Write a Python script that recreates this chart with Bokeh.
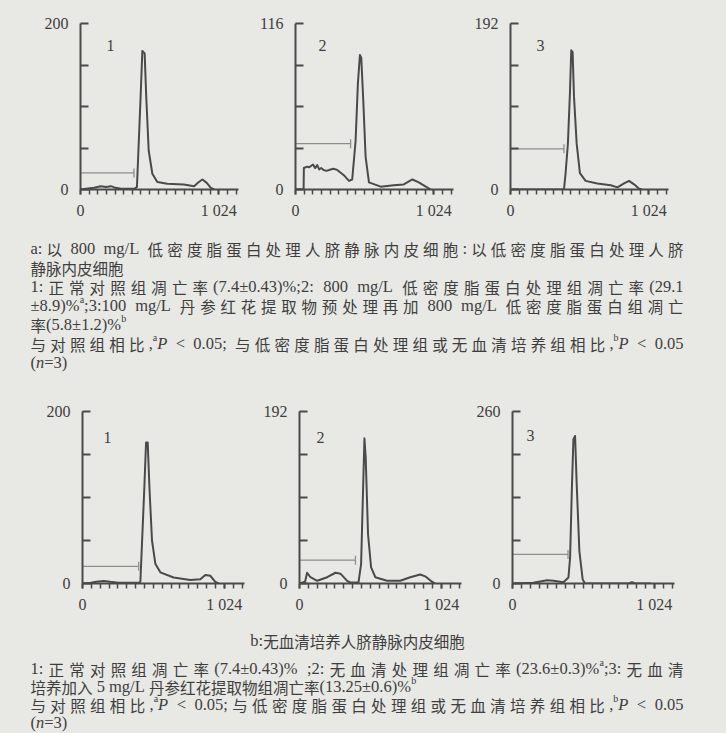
from bokeh.plotting import figure
from bokeh.layouts import column, row
from bokeh.models import FixedTicker, Range1d, Label
from bokeh.embed import file_html
from bokeh.resources import INLINE

# ---------------- data (channel vs. cell count) ----------------
x_max_label = 1024
x_tick_step = 64

a1_x = [0, 40, 100, 150, 190, 225, 260, 300, 350, 400, 418, 445, 458, 475, 487, 505, 532, 569, 643, 766, 841, 876, 903, 935, 965, 990]
a1_y = [0, 1, 2, 4, 3, 4, 2, 1, 1, 1, 3, 111, 167, 164, 111, 47, 19, 9, 7, 6, 4, 9, 12, 8, 2, 0]
a2_x = [0, 60, 62, 86, 100, 130, 145, 161, 175, 190, 208, 230, 260, 280, 309, 330, 358, 396, 420, 445, 462, 477, 487, 502, 519, 544, 631, 727, 801, 866, 913, 965, 1002]
a2_y = [0, 0, 15, 16, 15.5, 17.5, 15, 17, 14, 15, 13.6, 13, 14, 14.5, 13.7, 12, 10, 6, 7, 34, 74, 94, 92, 62, 23, 5, 2, 3, 3.5, 7, 5, 2, 0]
a3_x = [0, 396, 408, 425, 440, 450, 460, 470, 490, 514, 556, 643, 742, 792, 841, 878, 915, 952, 975]
a3_y = [0, 0, 19, 53, 111, 161, 159, 108, 53, 19, 10, 7, 5, 2.5, 7, 10, 6, 1, 0]
b1_x = [0, 60, 100, 154, 200, 260, 330, 410, 418, 447, 459, 471, 483, 502, 526, 562, 658, 779, 851, 887, 923, 959, 985]
b1_y = [0, 1, 2, 3, 2, 1, 1, 1, 2, 113, 164, 164, 113, 50, 23, 13, 7, 4, 5, 10, 9, 2, 0]
b2_x = [0, 40, 55, 79, 128, 200, 260, 296, 344, 368, 426, 445, 459, 469, 478, 495, 517, 548, 632, 728, 800, 872, 908, 957, 980]
b2_y = [0, 2, 12, 7, 3, 7, 12, 11, 3, 1, 1, 22, 104, 162, 141, 55, 18, 7, 3, 3, 7, 10, 8, 2, 0]
b3_x = [0, 150, 200, 250, 296, 368, 404, 416, 428, 440, 452, 464, 483, 507, 524, 840, 863, 885, 1000]
b3_y = [0, 1, 3, 5, 4, 2, 9, 39, 138, 218, 223, 148, 49, 6, 0, 0, 2, 0, 0]

y_max_a = [200, 116, 192]
y_max_b = [200, 192, 260]
gate_end_a = [396, 408, 396]
gate_level_a = [20, 32, 47]
gate_end_b = [406, 404, 401]
gate_level_b = [20, 26, 44]
panel_names = ["1", "2", "3"]

# caption lines: (runs, justified); run styles: n = normal, i = italic, s = superscript
caption_a = [
    ([("a:以 800 mg/L 低密度脂蛋白处理人脐静脉内皮细胞:以低密度脂蛋白处理人脐", "n")], True),
    ([("静脉内皮细胞", "n")], False),
    ([("1:正常对照组凋亡率(7.4±0.43)%;2: 800 mg/L 低密度脂蛋白处理组凋亡率(29.1", "n")], True),
    ([("±8.9)%", "n"), ("a", "s"), (";3:100 mg/L 丹参红花提取物预处理再加 800 mg/L 低密度脂蛋白组凋亡", "n")], True),
    ([("率(5.8±1.2)%", "n"), ("b", "s")], False),
    ([("与对照组相比,", "n"), ("a", "s"), ("P", "i"), (" < 0.05; 与低密度脂蛋白处理组或无血清培养组相比,", "n"),
      ("b", "s"), ("P", "i"), (" < 0.05", "n")], True),
    ([("(", "n"), ("n", "i"), ("=3)", "n")], False),
]
caption_b_title = [("b:无血清培养人脐静脉内皮细胞", "n")]
caption_b = [
    ([("1:正常对照组凋亡率(7.4±0.43)% ;2:无血清处理组凋亡率(23.6±0.3)%", "n"), ("a", "s"), (";3:无血清", "n")], True),
    ([("培养加入 5 mg/L 丹参红花提取物组凋亡率(13.25±0.6)%", "n"), ("b", "s")], False),
    ([("与对照组相比,", "n"), ("a", "s"), ("P", "i"), (" < 0.05;与低密度脂蛋白处理组或无血清培养组相比,", "n"),
      ("b", "s"), ("P", "i"), (" < 0.05", "n")], True),
    ([("(", "n"), ("n", "i"), ("=3)", "n")], False),
]

# ---------------- style ----------------
BG = "#e8e8e5"
INK = "#4a4a4a"
GATE = "#8e8e8e"
TXT = "#3e3e3e"
SERIF = "Liberation Serif"
CJK = "Noto Sans CJK SC"
X_END = 1170
W = 726


def panel(xs, ys, ymax, gx, gy, name, name_x, name_y, fw, fh, bl, br, bt, bb):
    p = figure(frame_width=fw, frame_height=fh, x_range=Range1d(0, X_END),
               y_range=Range1d(0, ymax), toolbar_location=None, output_backend="svg",
               min_border_left=bl, min_border_right=br, min_border_top=bt,
               min_border_bottom=bb)
    p.background_fill_color = BG
    p.border_fill_color = BG
    p.outline_line_color = None
    p.grid.visible = False

    p.line(xs, ys, line_color=INK, line_width=2, line_join="round")
    p.line([0, gx], [gy, gy], line_color=GATE, line_width=1.3)
    p.scatter([gx], [gy], marker="dash", angle=1.5708, size=9,
              line_color=GATE, line_width=1.3)

    step = ymax // 4
    yt = [step * i for i in range(5)]
    p.yaxis.ticker = FixedTicker(ticks=yt, minor_ticks=[])
    p.yaxis.major_label_overrides = {v: ("" if 0 < v < ymax else str(v)) for v in yt}
    p.yaxis.major_tick_in = 8
    p.yaxis.major_tick_out = 0
    p.yaxis.minor_tick_in = 0
    p.yaxis.minor_tick_out = 0
    p.yaxis.major_label_standoff = 12

    p.xaxis.ticker = FixedTicker(ticks=[0, x_max_label],
                                 minor_ticks=list(range(0, X_END, x_tick_step)))
    p.xaxis.major_label_overrides = {0: "0", x_max_label: "1 024"}
    p.xaxis.major_tick_in = 0
    p.xaxis.major_tick_out = 5
    p.xaxis.minor_tick_in = 0
    p.xaxis.minor_tick_out = 5
    p.xaxis.major_label_standoff = 7

    for ax in (p.xaxis, p.yaxis):
        ax.axis_line_color = INK
        ax.axis_line_width = 2
        ax.major_tick_line_color = INK
        ax.major_tick_line_width = 2
        ax.minor_tick_line_color = INK
        ax.minor_tick_line_width = 1.5
        ax.major_label_text_font = SERIF
        ax.major_label_text_font_size = "16px"
        ax.major_label_text_color = TXT

    p.add_layout(Label(x=name_x, y=name_y, text=name, text_font=SERIF,
                       text_font_size="16px", text_color=TXT,
                       text_align="center", text_baseline="middle"))
    return p


top_data = [(a1_x, a1_y), (a2_x, a2_y), (a3_x, a3_y)]
bot_data = [(b1_x, b1_y), (b2_x, b2_y), (b3_x, b3_y)]

top_borders = [(80, 7), (50, 7), (50, 58)]
top_names = [(223, 0.865), (200, 0.87), (222, 0.87)]
top = []
for i in range(3):
    xs, ys = top_data[i]
    m = y_max_a[i]
    nx, fy = top_names[i]
    top.append(panel(xs, ys, m, gate_end_a[i], gate_level_a[i], panel_names[i],
                     nx, m * fy, 158, 166, top_borders[i][0], top_borders[i][1], 23, 36))

bot_borders = [(82, 6), (49, 4), (47, 52)]
bot_names = [(180, 0.85), (151, 0.85), (130, 0.86)]
bot = []
for i in range(3):
    xs, ys = bot_data[i]
    m = y_max_b[i]
    nx, fy = bot_names[i]
    bot.append(panel(xs, ys, m, gate_end_b[i], gate_level_b[i], panel_names[i],
                     nx, m * fy, 162, 172, bot_borders[i][0], bot_borders[i][1], 16, 36))

# ---------------- simple caption typesetting ----------------
CJK_SIZE = 15.5
LAT_SIZE = 16.5
SUP_SIZE = 10
LAT_W = {" ": 0.25, ".": 0.25, ",": 0.25, ":": 0.278, ";": 0.278, "(": 0.333, ")": 0.333,
         "%": 0.833, "±": 0.564, "<": 0.564, "=": 0.564, "/": 0.278, "a": 0.444, "b": 0.5,
         "g": 0.5, "m": 0.778, "n": 0.5, "L": 0.611, "P": 0.611}


def is_cjk(ch):
    return ord(ch) >= 0x2E80


def lat_w(s, size):
    return sum(LAT_W.get(c, 0.5) for c in s) * size


def units_of(runs):
    units = []   # [text, kind, width, space_before, glued]
    space = 0.0
    for text, style in runs:
        if style == "s":
            units.append([text, "s", lat_w(text, SUP_SIZE), space, space == 0])
            space = 0.0
            continue
        buf = ""
        for ch in text + "\0":
            if ch == "\0" or ch == " " or is_cjk(ch):
                if buf:
                    glued = space == 0 and bool(units) and units[-1][1] != "c"
                    units.append([buf, style, lat_w(buf, LAT_SIZE), space, glued])
                    buf = ""
                    space = 0.0
                if ch == " ":
                    space += 0.25 * LAT_SIZE
                elif ch != "\0":
                    units.append([ch, "c", CJK_SIZE, space, False])
                    space = 0.0
            else:
                buf += ch
    return units


def set_line(fig, runs, x0, x1, yc, mode):
    units = units_of(runs)
    natural = sum(u[2] + u[3] for u in units) - units[0][3]
    gaps = sum(1 for u in units[1:] if not u[4])
    extra = (x1 - x0 - natural) / gaps if (mode == "justify" and gaps) else 0.0
    x = x0 if mode != "center" else (x0 + x1 - natural) / 2
    base = yc + 5
    for k, (t, kind, w, sp, glued) in enumerate(units):
        if k > 0:
            x += sp + (0 if glued else extra)
        if kind == "c":
            font, size, style, y = CJK, CJK_SIZE, "normal", base
        elif kind == "s":
            font, size, style, y = SERIF, SUP_SIZE, "normal", base - 6
        else:
            font, size, y = SERIF, LAT_SIZE, base
            style = "italic" if kind == "i" else "normal"
        fig.add_layout(Label(x=x, y=y, text=t, text_font=font, text_font_size=f"{size}px",
                             text_font_style=style, text_color=TXT, text_align="left",
                             text_baseline="alphabetic"))
        x += w


def caption_fig(h):
    c = figure(width=W, height=h, x_range=Range1d(0, W), y_range=Range1d(h, 0),
               toolbar_location=None, output_backend="svg", min_border=0,
               x_axis_type=None, y_axis_type=None)
    c.background_fill_color = BG
    c.border_fill_color = BG
    c.outline_line_color = None
    c.grid.visible = False
    return c


LEFT, RIGHT = 30, 683
cap_a = caption_fig(170)           # page y 225 .. 395
for k, (runs, just) in enumerate(caption_a):
    set_line(cap_a, runs, LEFT, RIGHT, 18 + 19 * k, "justify" if just else "left")

cap_b = caption_fig(114)           # page y 619 .. 733
set_line(cap_b, caption_b_title, 0, 714, 16, "center")
for k, (runs, just) in enumerate(caption_b):
    set_line(cap_b, runs, LEFT, RIGHT, 44 + 18 * k, "justify" if just else "left")

layout = column(row(*top), cap_a, row(*bot), cap_b)
layout.styles = {"background-color": BG}

open("out.html", "w").write(file_html(layout, INLINE))
